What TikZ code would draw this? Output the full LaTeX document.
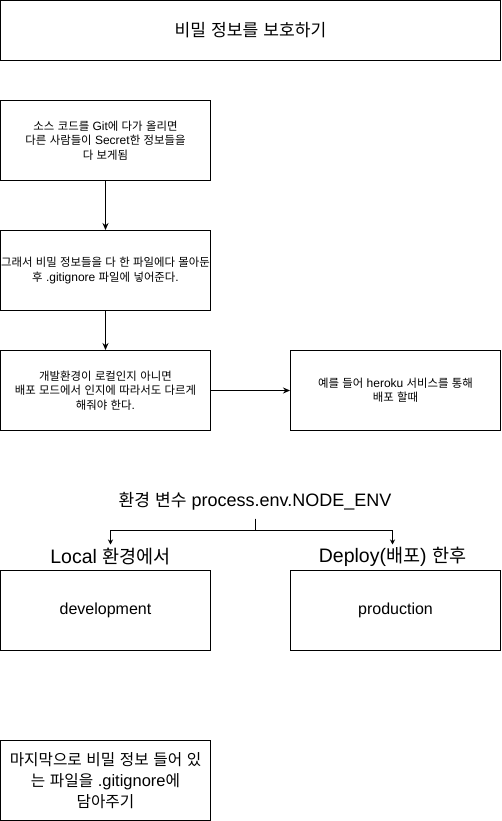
\documentclass[tikz,border=0pt]{standalone}
\usepackage{fontspec}
\setmainfont{Liberation Sans}
\newfontfamily\krfont[Scale=0.95]{Noto Sans CJK KR}
\usetikzlibrary{positioning,arrows.meta}

% hangul goes to the CJK font, everything else stays in the main font
\XeTeXinterchartokenstate=1
\newXeTeXintercharclass\hangulclass
\count255="AC00
\loop\ifnum\count255<"D7A4
  \XeTeXcharclass\count255=\hangulclass
  \advance\count255 by 1
\repeat
\XeTeXinterchartoks 0 \hangulclass = {\krfont}
\XeTeXinterchartoks 4095 \hangulclass = {\krfont}
\XeTeXinterchartoks \hangulclass 0 = {\rmfamily}
\XeTeXinterchartoks \hangulclass 4095 = {\rmfamily}

\tikzset{
  infobox/.style={draw, line width=1pt, minimum width=210pt, minimum height=80pt,
    inner sep=0pt, align=center, font={\fontsize{12}{14.4}\selectfont}},
  titlebox/.style={infobox, minimum width=500pt, minimum height=60pt,
    font={\fontsize{18}{21}\selectfont}},
  envtext/.style={inner sep=0pt, minimum height=34pt, font={\fontsize{18}{21}\selectfont}},
  branchtext/.style={inner sep=0pt, minimum height=24pt, font={\fontsize{19.5}{24}\selectfont}},
  small tip/.style={-{Stealth[length=5pt,width=5pt]}}
}

\begin{document}
\begin{tikzpicture}[x=1pt,y=-1pt,node distance=130pt,on grid,line width=1pt,
  >={Stealth[length=7pt,width=6pt]}]
	\useasboundingbox (0,0) rectangle (501,821);

	\node[titlebox] (title) at (250.5,30.5) {비밀 정보를 보호하기};
	\node[infobox] (leak) at (105.5,140.5) {소스 코드를 Git에 다가 올리면\\다른 사람들이 Secret한 정보들을\\다 보게됨};
	\node[infobox] (ignore) [below=of leak] {그래서 비밀 정보들을 다 한 파일에다 몰아둔\\후 .gitignore 파일에 넣어준다.};
	\node[infobox] (mode) [below=120pt of ignore] {개발환경이 로컬인지 아니면\\배포 모드에서 인지에 따라서도 다르게\\해줘야 한다.};
	\node[infobox] (heroku) [right=290pt of mode] {예를 들어 heroku 서비스를 통해\\배포 할때};

	\node[envtext] (env) at (255,501) {환경 변수 process.env.NODE\_ENV};
	\node[infobox, font={\fontsize{16}{19}\selectfont}] (dev) [below=220pt of mode] {development};
	\node[infobox, font={\fontsize{16}{19}\selectfont}] (prod) [right=290pt of dev] {production};
	\node[branchtext] (local) [above=53.5pt of dev, xshift=5pt] {Local 환경에서};
	\node[branchtext] (deploy) [above=53.5pt of prod, xshift=-3pt] {Deploy(배포) 한후};

	\node[infobox, font={\fontsize{16.5}{21}\selectfont}] (last) [below=170pt of dev] {마지막으로 비밀 정보 들어 있\\는 파일을 .gitignore에\\담아주기};

	\path[->]
	(leak) edge (ignore)
	(ignore) edge (mode)
	(mode) edge (heroku)
	;
	\draw[small tip] (env.south) -- ++(0,12) -| (local.north);
	\draw[small tip] (env.south) -- ++(0,12) -| (deploy.north);
\end{tikzpicture}
\end{document}
